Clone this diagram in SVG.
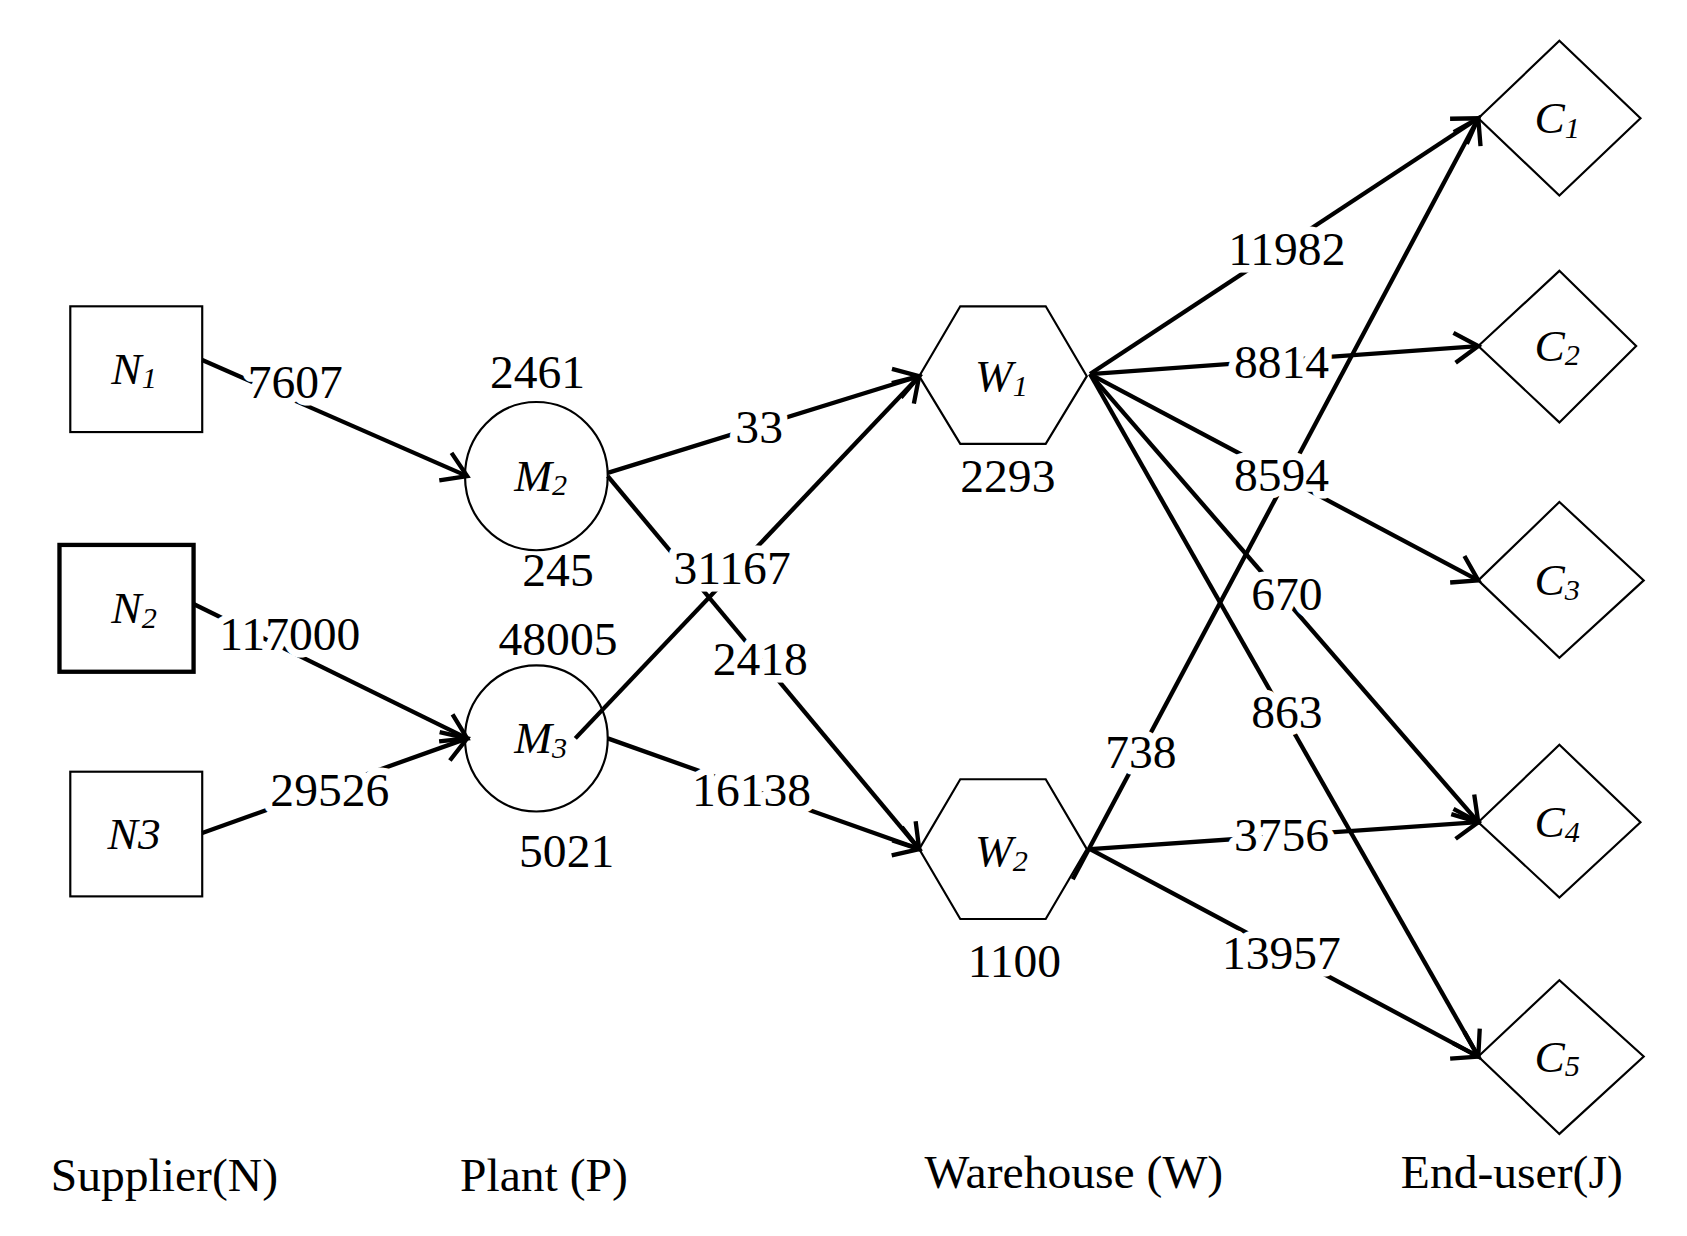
<svg xmlns="http://www.w3.org/2000/svg" width="1687" height="1236" viewBox="0 0 1687 1236">
<style>
.n{fill:none;stroke:#000;stroke-width:2}
.e{stroke:#000;stroke-width:4;fill:none;marker-end:url(#a)}
text{font-family:"Liberation Serif","Times New Roman",serif;fill:#000}
.l{font-size:44px;text-anchor:middle;stroke:#fff;stroke-width:14;paint-order:stroke;stroke-linejoin:round}
.v{font-size:44px;text-anchor:middle}
.nm{font-size:42px;font-style:italic;text-anchor:middle}
.s{font-size:28px}
</style>
<defs>
<marker id="a" markerUnits="userSpaceOnUse" markerWidth="40" markerHeight="40" refX="30" refY="20" orient="auto" viewBox="0 0 40 40">
<path d="M8,6 L30,20 L8,34" fill="none" stroke="#000" stroke-width="4"/>
</marker>
</defs>
<rect width="1687" height="1236" fill="#fff"/>
<g transform="scale(1.0814,1.0748)">
<g id="connectors">
<line class="e" x1="187" y1="335" x2="432" y2="443"/>
<line class="e" x1="179" y1="562" x2="432" y2="687"/>
<line class="e" x1="187" y1="775" x2="432" y2="687"/>
<line class="e" x1="562" y1="440" x2="850" y2="350"/>
<line class="e" x1="562" y1="443" x2="850" y2="790"/>
<line class="e" x1="532" y1="687" x2="850" y2="350"/>
<line class="e" x1="562" y1="687" x2="850" y2="790"/>
<line class="e" x1="1008" y1="348" x2="1367" y2="110"/>
<line class="e" x1="1008" y1="348" x2="1367" y2="322"/>
<line class="e" x1="1008" y1="348" x2="1367" y2="540"/>
<line class="e" x1="1008" y1="348" x2="1367" y2="765"/>
<line class="e" x1="1008" y1="348" x2="1367" y2="983"/>
<line class="e" x1="992" y1="818" x2="1367" y2="110"/>
<line class="e" x1="1008" y1="790" x2="1367" y2="765"/>
<line class="e" x1="1008" y1="790" x2="1367" y2="983"/>
<text class="l" x="273" y="370">7607</text>
<text class="l" x="268" y="605">117000</text>
<text class="l" x="305" y="750">29526</text>
<text class="l" x="702" y="412">33</text>
<text class="l" x="677" y="543">31167</text>
<text class="l" x="703" y="628">2418</text>
<text class="l" x="695" y="750">16138</text>
<text class="l" x="1190" y="247">11982</text>
<text class="l" x="1185" y="352">8814</text>
<text class="l" x="1185" y="457">8594</text>
<text class="l" x="1190" y="568">670</text>
<text class="l" x="1190" y="677">863</text>
<text class="l" x="1055" y="715">738</text>
<text class="l" x="1185" y="792">3756</text>
<text class="l" x="1185" y="902">13957</text>
</g>
<g id="N1"><rect class="n" x="65" y="285" width="122" height="117"/><text class="nm" x="124" y="357">N<tspan class="s" dy="4">1</tspan></text></g>
<g id="N2"><rect class="n" style="stroke-width:4" x="55" y="507" width="124" height="118"/><text class="nm" x="124" y="580">N<tspan class="s" dy="4">2</tspan></text></g>
<g id="N3"><rect class="n" x="65" y="718" width="122" height="116"/><text class="nm" x="124" y="790">N3</text></g>
<g id="M2"><ellipse class="n" cx="496" cy="443" rx="66" ry="69"/><text class="nm" x="500" y="457">M<tspan class="s" dy="4">2</tspan></text></g>
<g id="M3"><ellipse class="n" cx="496" cy="687" rx="66" ry="68"/><text class="nm" x="500" y="701">M<tspan class="s" dy="4">3</tspan></text></g>
<g id="W1"><polygon class="n" points="850,350 888,285 967,285 1005,350 967,413 888,413"/><text class="nm" x="926" y="364">W<tspan class="s" dy="4">1</tspan></text></g>
<g id="W2"><polygon class="n" points="850,790 888,725 967,725 1005,790 967,855 888,855"/><text class="nm" x="926" y="806">W<tspan class="s" dy="4">2</tspan></text></g>
<g id="C1"><polygon class="n" points="1367,110 1442,38 1517,110 1442,182"/><text class="nm" x="1440" y="124">C<tspan class="s" dy="4">1</tspan></text></g>
<g id="C2"><polygon class="n" points="1367,322 1442,252 1513,322 1442,393"/><text class="nm" x="1440" y="336">C<tspan class="s" dy="4">2</tspan></text></g>
<g id="C3"><polygon class="n" points="1367,540 1442,467 1520,540 1442,612"/><text class="nm" x="1440" y="554">C<tspan class="s" dy="4">3</tspan></text></g>
<g id="C4"><polygon class="n" points="1367,765 1442,693 1517,765 1442,835"/><text class="nm" x="1440" y="779">C<tspan class="s" dy="4">4</tspan></text></g>
<g id="C5"><polygon class="n" points="1367,983 1442,912 1520,983 1442,1055"/><text class="nm" x="1440" y="997">C<tspan class="s" dy="4">5</tspan></text></g>
<g id="values">
<text class="v" x="497" y="361">2461</text>
<text class="v" x="516" y="545">245</text>
<text class="v" x="516" y="609">48005</text>
<text class="v" x="524" y="807">5021</text>
<text class="v" x="932" y="458">2293</text>
<text class="v" x="938" y="909">1100</text>
<text class="v" x="152" y="1108">Supplier(N)</text>
<text class="v" x="503" y="1108">Plant (P)</text>
<text class="v" x="993" y="1105">Warehouse (W)</text>
<text class="v" x="1398" y="1105">End-user(J)</text>
</g>
</g>
</svg>
